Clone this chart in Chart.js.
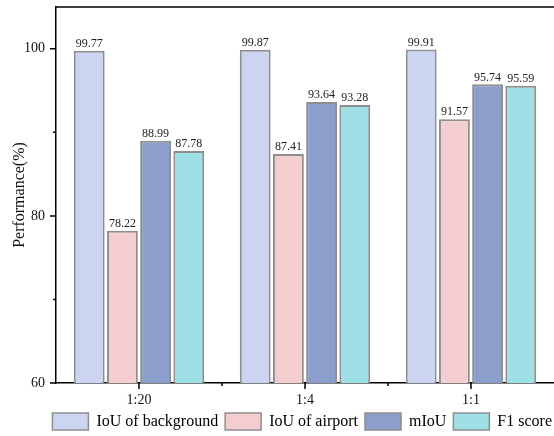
<!DOCTYPE html>
<html>
<head>
<meta charset="utf-8">
<script src="https://cdn.jsdelivr.net/npm/chart.js@4/dist/chart.umd.min.js"></script>
<style>
  html, body { margin: 0; padding: 0; background: #fff; }
  #wrap { width: 554px; height: 436px; }
</style>
</head>
<body>
<div id="wrap"><canvas id="chart" width="554" height="436"></canvas></div>
<script>
// data
const ratios = ["1:20", "1:4", "1:1"];
const seriesNames = ["IoU of background", "IoU of airport", "mIoU", "F1 score"];
const iouBackground = [99.77, 99.87, 99.91];
const iouAirport = [78.22, 87.41, 91.57];
const mIoU = [88.99, 93.64, 95.74];
const f1Score = [87.78, 93.28, 95.59];
const yLabels = [60, 80, 100];
const yMinor = [70, 90];

const fills = ["#CBD5F2", "#F4CDD0", "#8B9ECC", "#9FDFE6"];
const serif = "'Liberation Serif', 'Times New Roman', serif";

// valeurs au-dessus des barres
const valueLabels = {
  id: "valueLabels",
  afterDatasetsDraw(chart) {
    const ctx = chart.ctx;
    ctx.save();
    ctx.font = "12px " + serif;
    ctx.fillStyle = "#222";
    ctx.textAlign = "center";
    ctx.textBaseline = "bottom";
    chart.data.datasets.forEach((ds, i) => {
      chart.getDatasetMeta(i).data.forEach((bar, j) => {
        ctx.fillText(ds.data[j].toFixed(2), bar.x, bar.y - 1);
      });
    });
    ctx.restore();
  }
};

// décaler la légende vers sa place
const legendShift = {
  id: "legendShift",
  afterLayout(chart) {
    const lg = chart.legend;
    lg.left += 5;
    lg.right += 5;
    lg.top -= 3;
    lg.bottom -= 3;
  }
};

// cadre du haut + graduations
const frameTicks = {
  id: "frameTicks",
  afterDraw(chart) {
    const ctx = chart.ctx;
    const a = chart.chartArea;
    const x = chart.scales.x;
    const y = chart.scales.y;
    ctx.save();
    ctx.strokeStyle = "#000";
    ctx.lineWidth = 1.5;
    ctx.beginPath();
    ctx.moveTo(a.left - 0.75, a.top);
    ctx.lineTo(a.right, a.top);
    yLabels.forEach((v) => {
      const p = y.getPixelForValue(v);
      ctx.moveTo(a.left - 6, p);
      ctx.lineTo(a.left, p);
    });
    yMinor.forEach((v) => {
      const p = y.getPixelForValue(v);
      ctx.moveTo(a.left - 3, p);
      ctx.lineTo(a.left, p);
    });
    ratios.forEach((r, i) => {
      const p = x.getPixelForValue(i);
      ctx.moveTo(p, a.bottom);
      ctx.lineTo(p, a.bottom + 6);
    });
    for (let i = 1; i < ratios.length; i++) {
      const p = (x.getPixelForValue(i - 1) + x.getPixelForValue(i)) / 2;
      ctx.moveTo(p, a.bottom);
      ctx.lineTo(p, a.bottom + 3);
    }
    ctx.stroke();
    ctx.restore();
  }
};

const ctx = document.getElementById("chart");
const seriesData = [iouBackground, iouAirport, mIoU, f1Score];

new Chart(ctx, {
  type: "bar",
  data: {
    labels: ratios,
    datasets: seriesNames.map((name, i) => ({
      label: name,
      data: seriesData[i],
      backgroundColor: fills[i],
      borderColor: "#8E8E8E",
      borderWidth: 2,
      borderSkipped: false,
      categoryPercentage: 0.8,
      barPercentage: 0.93,
    })),
  },
  options: {
    responsive: false,
    animation: false,
    devicePixelRatio: 1,
    layout: { padding: { top: 7, left: 0, right: 0, bottom: 0 } },
    plugins: {
      tooltip: { enabled: false },
      legend: {
        position: "bottom",
        align: "end",
        maxHeight: 27,
        labels: {
          font: { family: serif, size: 16 },
          color: "#111",
          boxWidth: 36,
          boxHeight: 17,
          padding: 7,
          generateLabels(chart) {
            return chart.data.datasets.map((ds, i) => ({
              text: ds.label,
              fillStyle: ds.backgroundColor,
              strokeStyle: "#8E8E8E",
              lineWidth: 1.5,
              datasetIndex: i,
            }));
          },
        },
      },
    },
    scales: {
      x: {
        grid: { display: false, drawTicks: false },
        border: { display: true, color: "#000", width: 1.5 },
        ticks: {
          font: { family: serif, size: 14 },
          color: "#111",
          padding: 9,
        },
        afterFit(scale) {
          scale.height = 26;
          scale.paddingLeft = 0;
          scale.paddingRight = 0;
        },
      },
      y: {
        min: 60,
        max: 105,
        grid: { display: false, drawTicks: false },
        border: { display: true, color: "#000", width: 1.5 },
        ticks: {
          stepSize: 10,
          font: { family: serif, size: 14 },
          color: "#111",
          padding: 11,
          callback: (v) => (yLabels.includes(v) ? v : null),
        },
        title: {
          display: true,
          text: "Performance(%)",
          font: { family: serif, size: 16 },
          color: "#111",
          padding: { top: 10, bottom: 0 },
        },
        afterFit(scale) {
          scale.width = 56;
          scale.paddingTop = 0;
          scale.paddingBottom = 0;
        },
      },
    },
  },
  plugins: [legendShift, valueLabels, frameTicks],
});
</script>
</body>
</html>
